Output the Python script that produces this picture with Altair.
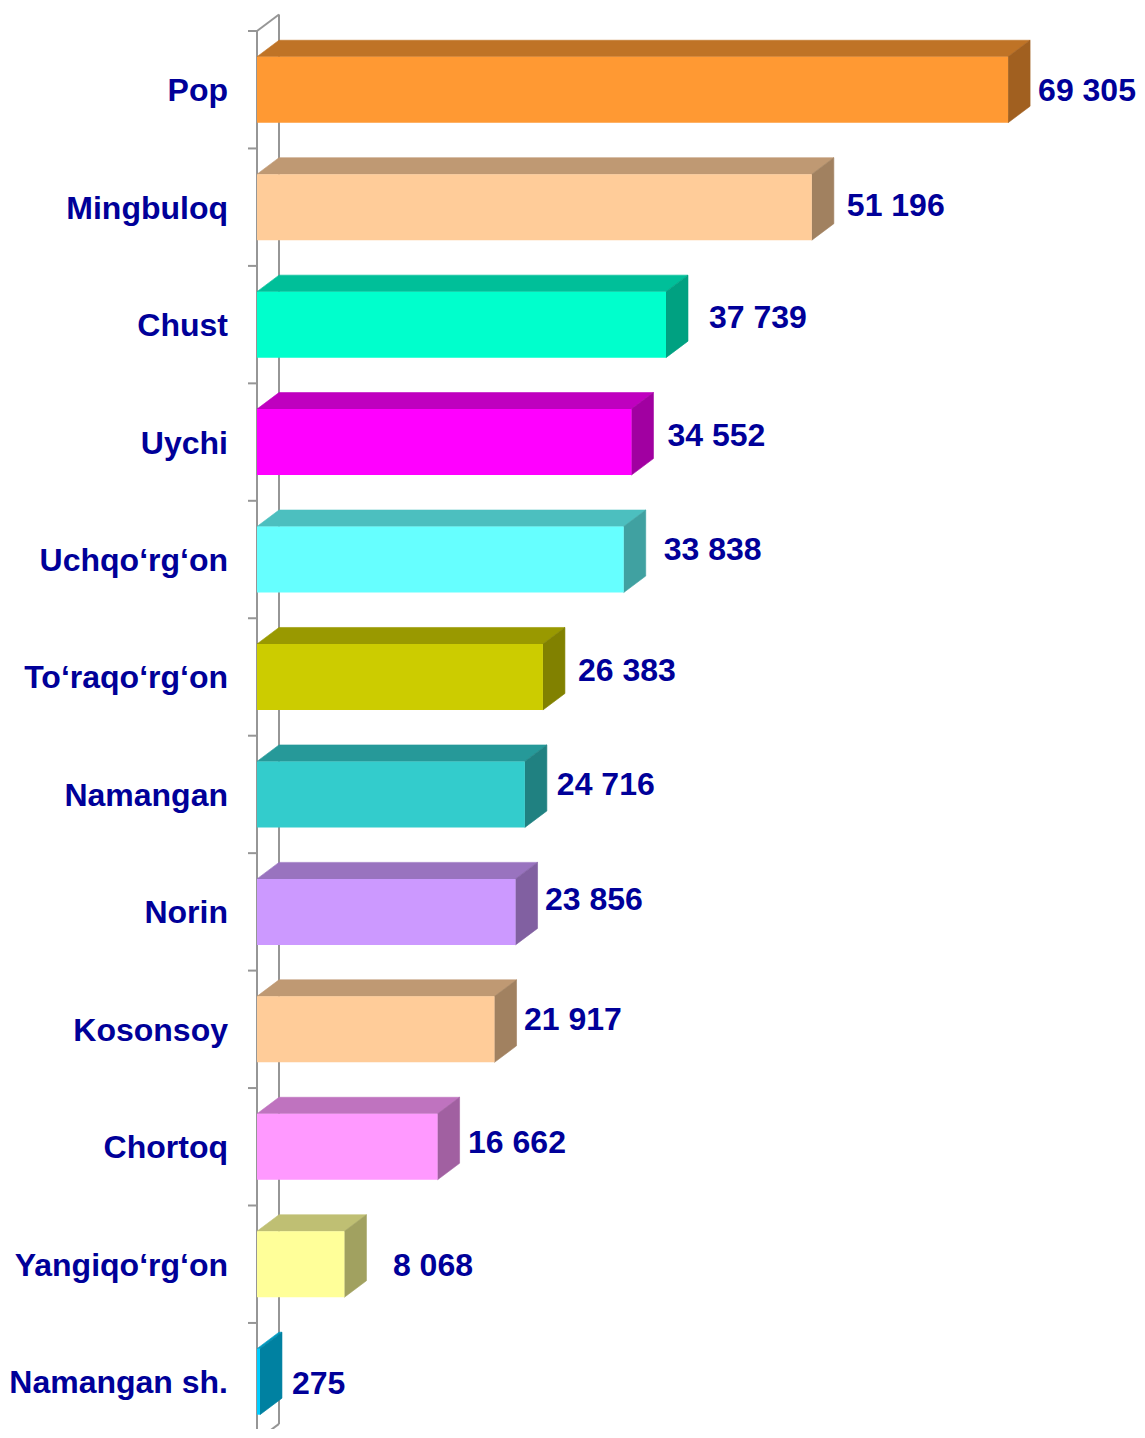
import altair as alt
import pandas as pd

# ---------------- data ----------------
categories = ["Pop", "Mingbuloq", "Chust", "Uychi", "Uchqo\u2018rg\u2018on", "To\u2018raqo\u2018rg\u2018on",
              "Namangan", "Norin", "Kosonsoy", "Chortoq", "Yangiqo\u2018rg\u2018on", "Namangan sh."]
values = [69305, 51196, 37739, 34552, 33838, 26383, 24716, 23856, 21917, 16662, 8068, 275]

# ---------------- styles ----------------
front_colors = ["#FF9933", "#FFCC99", "#00FFCC", "#FF00FF", "#66FFFF", "#CCCC00",
                "#33CCCC", "#CC99FF", "#FFCC99", "#FF99FF", "#FFFF99", "#00CCFF"]
# per-label nudges in pixels (label placement in the original is manual)
label_dx_px = [8, 13, 21, 14, 18, 13, 10, 7.5, 7.5, 8.5, 26.5, 10]
label_dy_px = [1.3, -1.2, -6.6, -6, -9.5, -6, -9, -11.7, -9, -3.6, 2, 2.5]

TEXT_COLOR = "#000099"
LINE_COLOR = "#969696"
FONT = "Liberation Sans"
FS_CAT = 32
FS_VAL = 32

N = len(categories)
BAND_PX = 117.45               # px per category
W = 867
H = 1398                       # visible plot height (the floor is cropped as in the original)
XMAX = 80000
YMAX = H / BAND_PX             # visible part of the category range
kx = W / XMAX                  # px per value unit
ky = BAND_PX                   # px per category unit
DX = 22 / kx                   # depth offset (x) in value units
DY = 16.5 / ky                 # depth offset (y) in category units
HALF = 33 / ky                 # half bar thickness
TICK = 9 / kx


def shade(hexcol, f):
    r, g, b = int(hexcol[1:3], 16), int(hexcol[3:5], 16), int(hexcol[5:7], 16)
    return "#%02X%02X%02X" % (round(r * f), round(g * f), round(b * f))


front_rows, top_rows, side_rows, lab_rows, cat_rows = [], [], [], [], []
for i, (c, v, col) in enumerate(zip(categories, values, front_colors)):
    cy = i + 0.5
    yt, yb = cy - HALF, cy + HALF
    front_rows.append(dict(cat=c, x0=0, x1=v, y0=yt, y1=yb, col=col))
    tcol = shade(col, 0.75)
    scol = shade(col, 0.63)
    top_rows.append(dict(cat=c, yy=yt, xa=0, xb=v, col=tcol))
    top_rows.append(dict(cat=c, yy=yt - DY, xa=DX, xb=v + DX, col=tcol))
    side_rows.append(dict(cat=c, xx=v, ya=yt, yb=yb, col=scol))
    side_rows.append(dict(cat=c, xx=v + DX, ya=yt - DY, yb=yb - DY, col=scol))
    lab_rows.append(dict(cat=c, x=v + DX + label_dx_px[i] / kx, y=cy + label_dy_px[i] / ky,
                         txt=f"{v:,}".replace(",", " ")))
    cat_rows.append(dict(cat=c, x=0, y=cy + 1.5 / ky))

line_rows = [
    dict(x=0, x2=0, y=0, y2=N),
    dict(x=DX, x2=DX, y=-DY, y2=N - DY),
    dict(x=0, x2=DX, y=0, y2=-DY),
    dict(x=0, x2=DX, y=N, y2=N - DY),
]
for b in range(N + 1):
    line_rows.append(dict(x=-TICK, x2=0, y=b, y2=b))

xs = alt.Scale(domain=[0, XMAX], nice=False, zero=False)
ys = alt.Scale(domain=[0, YMAX], nice=False, zero=False, reverse=True)

lines = alt.Chart(pd.DataFrame(line_rows)).mark_rule(color=LINE_COLOR, strokeWidth=2).encode(
    x=alt.X("x:Q", scale=xs, axis=None), x2="x2:Q",
    y=alt.Y("y:Q", scale=ys, axis=None), y2="y2:Q")

top = alt.Chart(pd.DataFrame(top_rows)).mark_area(orient="horizontal", strokeWidth=0.6).encode(
    y=alt.Y("yy:Q", scale=ys, axis=None),
    x=alt.X("xa:Q", scale=xs, axis=None), x2="xb:Q",
    detail="cat:N",
    color=alt.Color("col:N", scale=None),
    stroke=alt.Stroke("col:N", scale=None))

side = alt.Chart(pd.DataFrame(side_rows)).mark_area(orient="vertical", strokeWidth=0.6).encode(
    x=alt.X("xx:Q", scale=xs, axis=None),
    y=alt.Y("ya:Q", scale=ys, axis=None), y2="yb:Q",
    detail="cat:N",
    color=alt.Color("col:N", scale=None),
    stroke=alt.Stroke("col:N", scale=None))

front = alt.Chart(pd.DataFrame(front_rows)).mark_rect().encode(
    x=alt.X("x0:Q", scale=xs, axis=None), x2="x1:Q",
    y=alt.Y("y0:Q", scale=ys, axis=None), y2="y1:Q",
    color=alt.Color("col:N", scale=None))

vlabels = alt.Chart(pd.DataFrame(lab_rows)).mark_text(
    align="left", baseline="middle", font=FONT, fontSize=FS_VAL, fontWeight="bold", color=TEXT_COLOR
).encode(x=alt.X("x:Q", scale=xs, axis=None), y=alt.Y("y:Q", scale=ys, axis=None), text="txt:N")

clabels = alt.Chart(pd.DataFrame(cat_rows)).mark_text(
    align="right", baseline="middle", dx=-29, font=FONT, fontSize=FS_CAT, fontWeight="bold", color=TEXT_COLOR
).encode(x=alt.X("x:Q", scale=xs, axis=None), y=alt.Y("y:Q", scale=ys, axis=None), text="cat:N")

chart = alt.layer(lines, top, side, front, vlabels, clabels).properties(
    width=W, height=H,
    autosize=alt.AutoSizeParams(type="none"),
    padding={"left": 249, "top": 23, "right": 13, "bottom": 0},
    background="white",
).configure_view(stroke=None)

chart.save("out.html", embed_options={"renderer": "svg", "actions": False})
